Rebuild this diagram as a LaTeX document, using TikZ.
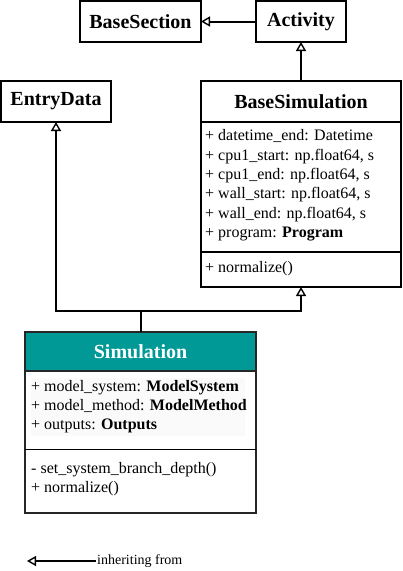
\documentclass[tikz,border=0pt]{standalone}
\usepackage{fontspec}
\setmainfont{Liberation Serif}
\usetikzlibrary{arrows.meta}
\definecolor{teal1}{RGB}{0,153,150}
\begin{document}
\begin{tikzpicture}[x=1pt,y=-1pt,
  box/.style={draw=black,line width=2pt,rectangle,inner sep=0pt,outer sep=0pt},
  hdr/.style={box,font=\fontsize{20}{24}\selectfont\bfseries},
  row/.style={anchor=west,inner sep=0pt,text height=11pt,text depth=3.5pt,font=\fontsize{16}{19}\selectfont},
  inh/.style={line width=2pt,-{Triangle[open,fill=white,length=9pt,width=10pt,line width=1.4pt]}},
  conn/.style={line width=2pt}]
\useasboundingbox (0,0) rectangle (403,571);
% top boxes
\node[hdr,minimum width=121pt,minimum height=41pt] (bsec) at (140.5,21.5) {BaseSection};
\node[hdr,minimum width=90pt,minimum height=41pt] (act) at (301,21.5) {Activity};
\node[hdr,minimum width=110pt,minimum height=41pt] (entry) at (56,101.5) {EntryData};
% BaseSimulation
\node[box,minimum width=200pt,minimum height=165pt] (bsimbody) at (301,204.5) {};
\node[hdr,minimum width=200pt,minimum height=41pt] (bsim) at (301,101.5) {BaseSimulation};
\coordinate (bd1) at (201,252);
\coordinate (bd2) at (401,252);
\draw[line width=2pt] (bd1) -- (bd2);
\node[row] (b1) at (205,137) {+ datetime\_end: Datetime};
\node[row] (b2) at (205,156.4) {+ cpu1\_start: np.float64, s};
\node[row] (b3) at (205,175.8) {+ cpu1\_end: np.float64, s};
\node[row] (b4) at (205,195.2) {+ wall\_start: np.float64, s};
\node[row] (b5) at (205,214.6) {+ wall\_end: np.float64, s};
\node[row] (b6) at (205,234) {+ program: \textbf{Program}};
\node[row] (b7) at (205,269) {+ normalize()};
% Simulation
\node[box,draw=black!85,minimum width=231pt,minimum height=142pt] (simbody) at (140.5,442) {};
\node[hdr,draw=black!85,fill=teal1,text=white,minimum width=231pt,minimum height=39pt] (sim) at (140.5,351.5) {Simulation};
\coordinate (sd1) at (25,449);
\coordinate (sd2) at (256,449);
\draw[line width=1pt] (sd1) -- (sd2);
\node[anchor=north west,inner sep=0pt,fill=black!2,minimum width=214pt,minimum height=58pt] (sbg) at (31,378) {};
\node[row] (s1) at (31,388) {+ model\_system: \textbf{ModelSystem}};
\node[row] (s2) at (31,407) {+ model\_method: \textbf{ModelMethod}};
\node[row] (s3) at (31,426) {+ outputs: \textbf{Outputs}};
\node[row] (s4) at (31,470) {- set\_system\_branch\_depth()};
\node[row] (s5) at (31,489) {+ normalize()};
% connectors
\draw[inh] (act.west) -- (bsec.east);
\draw[inh] (bsim.north) -- (act.south);
\coordinate (j) at (140.5,311);
\draw[conn] (sim.north) -- (j);
\draw[inh] (j) -| (entry.south);
\draw[inh] (j) -| (bsimbody.south);
% legend
\coordinate (l1) at (96,561);
\coordinate (l0) at (27,561);
\draw[inh] (l1) -- (l0);
\node[anchor=west,inner sep=0pt,font=\fontsize{14}{17}\selectfont] (leg) at (97,561) {inheriting from};
\end{tikzpicture}
\end{document}
